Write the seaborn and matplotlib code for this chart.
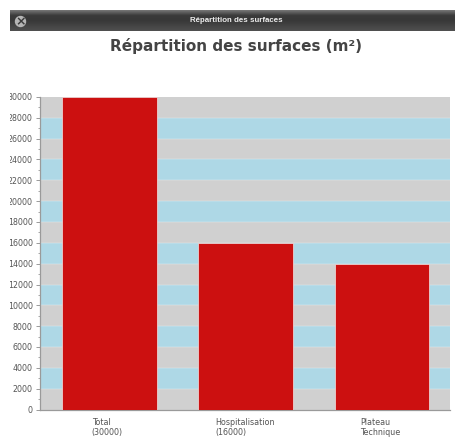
import numpy as np
import pandas as pd
import matplotlib
matplotlib.use("Agg")
import matplotlib.pyplot as plt
from matplotlib.patches import Circle
from matplotlib.transforms import Bbox
import seaborn as sns

categories = ["Total\n(30000)", "Hospitalisation\n(16000)", "Plateau\nTechnique"]
surfaces = [30000, 16000, 14000]
y_major = list(range(0, 30001, 2000))
y_minor = list(range(0, 30001, 1000))
window_title = "Répartition des surfaces"
chart_title = "Répartition des surfaces (m²)"
band_colors = ["#d0d0d0", "#aed8e6"]

W, H = 455, 438
sns.set_theme(style="white")
plt.rcParams["font.family"] = ["DejaVu Sans"]
fig = plt.figure(figsize=(W / 100, H / 100), dpi=100, facecolor="white")

def rect(x0, y0, x1, y1):
    return [x0 / W, 1 - y1 / H, (x1 - x0) / W, (y1 - y0) / H]

# window title bar
bar = fig.add_axes(rect(10, 10, 455, 31))
bar.imshow(np.linspace(0, 1, 64).reshape(-1, 1), aspect="auto",
           cmap=matplotlib.colors.LinearSegmentedColormap.from_list(
               "tb", ["#777777", "#3a3a3a", "#383838", "#444444", "#505050"]),
           extent=(0, 1, 0, 1))
bar.set_axis_off()
bar.text(0.509, 0.5, window_title, color="#eeeeee", fontsize=5.7, fontweight="bold",
         family="Liberation Sans", ha="center", va="center", transform=bar.transAxes)
cx, cy = 20.5 / W, 1 - 21.5 / H
fig.add_artist(Circle((cx * W, cy * H), 5, transform=None, color="#b5b5b5", zorder=5))
fig.text(cx, cy - 0.0005, "×", color="#3a3a3a", fontsize=9, fontweight="bold",
         ha="center", va="center", zorder=6)

fig.text(236 / W, 1 - 45.5 / H, chart_title, color="#444444", fontsize=11.0,
         fontweight="bold", ha="center", va="center")

ax = fig.add_axes(rect(40, 97, 449.5, 409.5))
df = pd.DataFrame({"categorie": categories, "surface": surfaces})
sns.barplot(data=df, x="categorie", y="surface", color="#cc1010", saturation=1,
            width=0.694, edgecolor="#f2e4e4", linewidth=0.5, ax=ax, zorder=3)
for i, (lo, hi) in enumerate(zip(y_major[:-1], y_major[1:])):
    ax.axhspan(lo, hi, color=band_colors[i % 2], lw=0, zorder=1)
for y in y_major[1:-1]:
    ax.axhline(y, color="#e8eef0", lw=0.3, zorder=2)

ax.set_xlim(-0.51, 2.495)
ax.set_ylim(0, 30000)
ax.set_xlabel("")
ax.set_ylabel("")
ax.set_yticks(y_major)
ax.set_yticks(y_minor, minor=True)
for s in ("top", "right"):
    ax.spines[s].set_visible(False)
for s in ("left", "bottom"):
    ax.spines[s].set_color("#9a9a9a")
    ax.spines[s].set_linewidth(0.9)
ax.tick_params(axis="y", which="major", length=3, width=0.7, color="#9a9a9a",
               labelsize=5.7, labelcolor="#555555", pad=2.2, left=True)
ax.tick_params(axis="y", which="minor", length=1.6, width=0.6, color="#9a9a9a", left=True)
ax.tick_params(axis="x", length=0, pad=0)
ax.set_xticks(range(3))
ax.set_xticklabels([])

# category labels left aligned, starting at fixed offsets from each bar
offs = [-0.13, -0.225, -0.16]
for i, (c, o) in enumerate(zip(categories, offs)):
    ax.annotate(c, xy=(i + o, 0), xycoords=("data", "axes fraction"), xytext=(0, -6),
                textcoords="offset points", ha="left", va="top", fontsize=5.8,
                color="#555555", linespacing=1.1)

fig.canvas.draw()
clip = Bbox.from_extents(10, 0, W, H)
for lab in ax.get_yticklabels():
    lab.set_clip_box(clip)
    lab.set_clip_on(True)

fig.savefig("out.png", dpi=100)
